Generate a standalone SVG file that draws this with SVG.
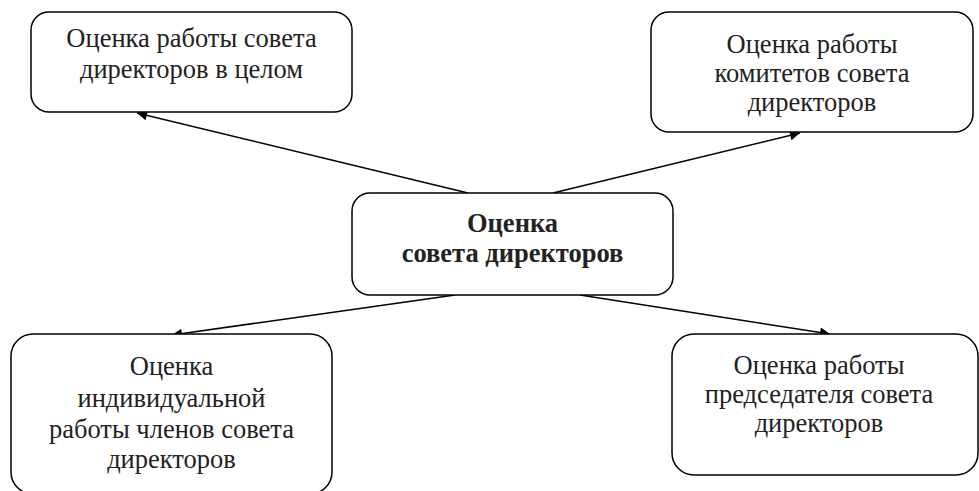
<svg xmlns="http://www.w3.org/2000/svg" width="979" height="491" viewBox="0 0 979 491">
<defs>
<marker id="arr" viewBox="0 0 10 10" refX="10" refY="5" markerWidth="14" markerHeight="10" markerUnits="userSpaceOnUse" orient="auto">
<path d="M0,0 L10,5 L0,10 z" fill="#000"/>
</marker>
<style>
.box{fill:#fff;stroke:#000;stroke-width:1.5}
.t{font-family:"Liberation Serif","Times New Roman",serif;font-size:26.5px;fill:#222;text-anchor:middle}
.b{font-weight:bold}
.c{stroke:#000;stroke-width:1.5;fill:none;marker-end:url(#arr)}
</style>
</defs>
<rect width="979" height="491" fill="#fff"/>
<g id="connectors">
<line class="c" x1="468" y1="193" x2="137" y2="113"/>
<line class="c" x1="553" y1="193" x2="800" y2="133"/>
<line class="c" x1="455" y1="295" x2="172" y2="335"/>
<line class="c" x1="580" y1="295" x2="830" y2="334"/>
</g>
<g id="n1">
<rect class="box" x="31" y="12" width="321" height="100" rx="18"/>
<text class="t" x="191.5" y="47">Оценка работы совета</text>
<text class="t" x="191.5" y="78">директоров в целом</text>
</g>
<g id="n2">
<rect class="box" x="651" y="12" width="322" height="120" rx="18"/>
<text class="t" x="812" y="53">Оценка работы</text>
<text class="t" x="812" y="82">комитетов совета</text>
<text class="t" x="812" y="111">директоров</text>
</g>
<g id="center">
<rect class="box" x="352" y="193" width="321" height="102" rx="18"/>
<text class="t b" x="512.5" y="232">Оценка</text>
<text class="t b" x="512.5" y="262">совета директоров</text>
</g>
<g id="n3">
<rect class="box" x="11" y="334" width="321" height="160" rx="22"/>
<text class="t" x="171.5" y="375">Оценка</text>
<text class="t" x="171.5" y="407">индивидуальной</text>
<text class="t" x="171.5" y="438">работы членов совета</text>
<text class="t" x="171.5" y="468">директоров</text>
</g>
<g id="n4">
<rect class="box" x="672" y="334" width="306" height="141" rx="22"/>
<text class="t" x="819" y="374">Оценка работы</text>
<text class="t" x="819" y="403">председателя совета</text>
<text class="t" x="819" y="432">директоров</text>
</g>
</svg>
